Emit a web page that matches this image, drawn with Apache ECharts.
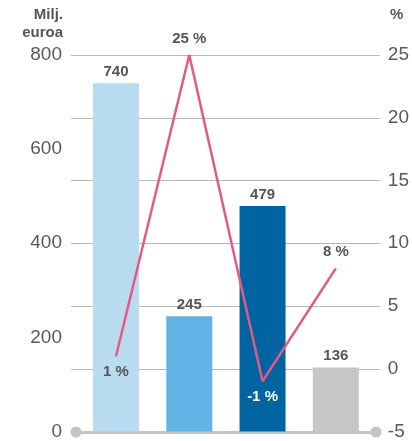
<!DOCTYPE html>
<html>
<head>
<meta charset="utf-8">
<script src="https://cdn.jsdelivr.net/npm/echarts@6/dist/echarts.min.js"></script>
<style>html,body{margin:0;padding:0;background:#fff}#c{width:412px;height:441px}</style>
</head>
<body>
<div id="c"></div>
<script>
const categories = ['1', '2', '3', '4'];
const barValues = [740, 245, 479, 136];
const barColors = ['#b8dbf0', '#62b3e6', '#0064a2', '#c6c6c6'];
const pctValues = [1, 25, -1, 8];
const pctLabelPos = ['bottom', 'top', 'bottom', 'top'];
const pctLabelColor = ['#555555', '#555555', '#ffffff', '#555555'];
const leftTicks = { min: 0, max: 800, interval: 200 };
const rightTicks = { min: -5, max: 25, interval: 5 };

const chart = echarts.init(document.getElementById('c'));
const font = 'Liberation Sans, Arial, sans-serif';
chart.setOption({
  animation: false,
  grid: [
    { left: 71, right: 32, top: 55, bottom: 9 },
    { left: 76, right: 36, top: 55, bottom: 9 }
  ],
  xAxis: [
    { type: 'value', gridIndex: 0, min: -0.614, max: 3.601, show: false },
    { type: 'value', gridIndex: 1, min: 0, max: 1,
      axisLine: { show: true, lineStyle: { color: '#c4c4c4', width: 3 }, symbol: ['circle', 'circle'], symbolSize: [11, 11] },
      axisTick: { show: false }, axisLabel: { show: false }, splitLine: { show: false } }
  ],
  yAxis: [
    { type: 'value', gridIndex: 0, min: leftTicks.min, max: leftTicks.max, interval: leftTicks.interval,
      axisLine: { show: false }, axisTick: { show: false }, splitLine: { show: false },
      axisLabel: { color: '#595959', fontSize: 19, fontFamily: font, margin: 9 } },
    { type: 'value', gridIndex: 0, position: 'right', min: rightTicks.min, max: rightTicks.max, interval: rightTicks.interval,
      axisLine: { show: false }, axisTick: { show: false },
      splitLine: { show: true, lineStyle: { color: '#b8b8b8', width: 1 } },
      axisLabel: { color: '#595959', fontSize: 19, fontFamily: font, margin: 8 } },
    { type: 'value', gridIndex: 1, show: false }
  ],
  graphic: [
    { type: 'text', x: 63, y: 15, style: { text: 'Milj.', font: 'bold 15px ' + font, fill: '#555', align: 'right', verticalAlign: 'middle' } },
    { type: 'text', x: 63, y: 33, style: { text: 'euroa', font: 'bold 15px ' + font, fill: '#555', align: 'right', verticalAlign: 'middle' } },
    { type: 'text', x: 390, y: 15, style: { text: '%', font: 'bold 15px ' + font, fill: '#555', align: 'left', verticalAlign: 'middle' } }
  ],
  series: [
    {
      type: 'bar', xAxisIndex: 0, yAxisIndex: 0, barWidth: 46,
      data: barValues.map((v, i) => ({ value: [i, v], itemStyle: { color: barColors[i] } })),
      label: { show: true, position: 'top', distance: 4, color: '#555', fontWeight: 'bold', fontSize: 15, fontFamily: font,
        formatter: p => p.value[1] },
      z: 2
    },
    {
      type: 'line', xAxisIndex: 0, yAxisIndex: 1, symbol: 'circle', symbolSize: 1, showSymbol: true,
      itemStyle: { color: 'rgba(0,0,0,0)' },
      lineStyle: { color: '#e35a82', width: 2.5 },
      data: pctValues.map((v, i) => ({
        value: [i, v],
        label: { show: true, position: pctLabelPos[i], distance: 8, color: pctLabelColor[i] }
      })),
      label: { show: true, fontWeight: 'bold', fontSize: 15, fontFamily: font, formatter: p => p.value[1] + ' %' },
      z: 3
    }
  ]
});
</script>
</body>
</html>
